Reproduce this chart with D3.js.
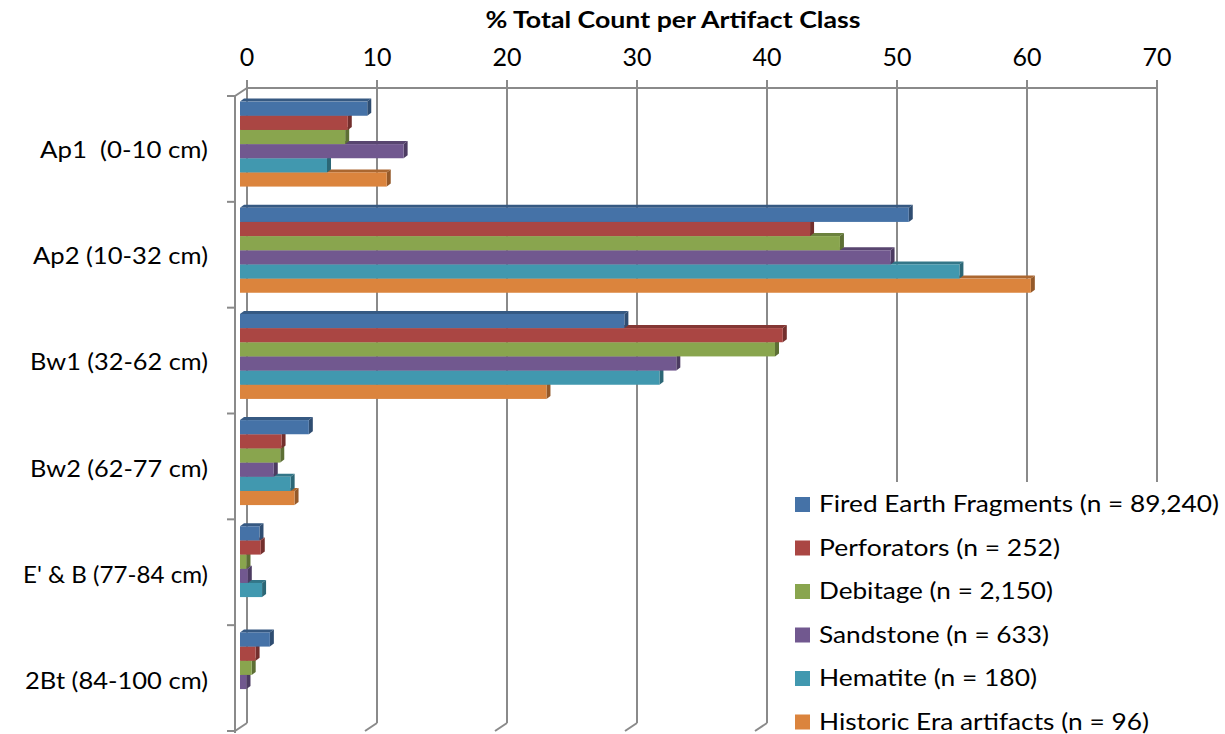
<!DOCTYPE html>
<html>
<head>
<meta charset="utf-8">
<script src="https://cdn.jsdelivr.net/npm/d3@7"></script>
<style>
  html, body { margin: 0; padding: 0; background: #fff; }
  svg { display: block; }
  text { font-family: Lato, "Open Sans", sans-serif; fill: #000; }
</style>
</head>
<body>
<svg id="chart" width="1225" height="734"></svg>
<script>
// ---- data ----
const categories = ["Ap1  (0-10 cm)", "Ap2 (10-32 cm)", "Bw1 (32-62 cm)", "Bw2 (62-77 cm)", "E' & B (77-84 cm)", "2Bt (84-100 cm)"];
const seriesNames = [
  "Fired Earth Fragments (n = 89,240)",
  "Perforators (n = 252)",
  "Debitage (n = 2,150)",
  "Sandstone (n = 633)",
  "Hematite (n = 180)",
  "Historic Era artifacts (n = 96)"
];
const firedEarth = [9.8, 51.5, 29.6, 5.3, 1.5, 2.3];
const perforators = [8.3, 43.9, 41.8, 3.2, 1.6, 1.2];
const debitage = [8.1, 46.2, 41.2, 3.1, 0.5, 0.9];
const sandstone = [12.6, 50.1, 33.6, 2.6, 0.6, 0.5];
const hematite = [6.7, 55.4, 32.3, 3.9, 1.7, 0];
const historic = [11.3, 60.9, 23.6, 4.2, 0, 0];
const tickValues = [0, 10, 20, 30, 40, 50, 60, 70];
const axisTitle = "% Total Count per Artifact Class";
const colors = ["#4572A7", "#AA4643", "#89A54E", "#71588F", "#4198AF", "#DB843D"];

const seriesValues = [firedEarth, perforators, debitage, sandstone, hematite, historic];
const series = seriesNames.map((name, i) => ({ name, values: seriesValues[i], color: colors[i], idx: i }));

// ---- layout ----
const svg = d3.select("#chart");
const gridColor = "#8a8a8a";
const wallTop = 88, wallBottom = 723;
const depth = { dx: -12, dy: 8 };       // back wall -> front
const barDepth = { dx: 4, dy: -3 };     // bar front -> bar back

const xBack = d3.scaleLinear().domain([0, 70]).range([247, 1157]);
const xBar = d3.scaleLinear().domain([0, 70]).range([240, 1149]);
const yBand = d3.scaleBand().domain(categories).range([91, 728]);
const groupH = 85;
const ySub = d3.scaleBand().domain(d3.range(series.length)).range([0, groupH]);

// ---- back wall gridlines ----
const grid = svg.append("g").attr("stroke", gridColor).attr("stroke-width", 2).attr("fill", "none");
tickValues.forEach(t => {
  const gx = xBack(t);
  grid.append("line").attr("x1", gx).attr("x2", gx).attr("y1", wallTop - 8).attr("y2", wallBottom);
  grid.append("line").attr("x1", gx).attr("x2", gx + depth.dx).attr("y1", wallBottom).attr("y2", wallBottom + depth.dy);
});
grid.append("line").attr("x1", xBack(0)).attr("x2", xBack(70)).attr("y1", wallTop).attr("y2", wallTop);
// left wall
const fx = xBack(0) + depth.dx;
grid.append("line").attr("x1", xBack(0)).attr("y1", wallTop).attr("x2", fx).attr("y2", wallTop + depth.dy);
grid.append("line").attr("x1", fx).attr("x2", fx).attr("y1", wallTop + depth.dy).attr("y2", wallBottom + depth.dy + 2);
const tickStep = (wallBottom - wallTop) / categories.length;
d3.range(categories.length + 1).forEach(k => {
  const ty = wallTop + depth.dy + k * tickStep;
  grid.append("line").attr("x1", fx - 8).attr("x2", fx).attr("y1", ty).attr("y2", ty);
});

// top axis labels
svg.append("g").selectAll("text").data(tickValues).join("text")
  .attr("x", d => xBack(d)).attr("y", 66)
  .attr("text-anchor", "middle").attr("font-size", 25)
  .text(d => d);

svg.append("text").attr("x", 673).attr("y", 28).attr("text-anchor", "middle")
  .attr("font-size", 22).attr("font-weight", "bold")
  .attr("textLength", 375).attr("lengthAdjust", "spacingAndGlyphs")
  .text(axisTitle);

// ---- bars ----
const bars = svg.append("g");
categories.forEach((cat, ci) => {
  const g = bars.append("g");
  for (let si = series.length - 1; si >= 0; si--) {
    const s = series[si];
    const v = s.values[ci];
    if (!(v > 0)) continue;
    const x0 = xBar(0), x1 = xBar(v);
    const y0 = yBand(cat) + (yBand.bandwidth() - groupH) / 2 + ySub(si);
    const h = ySub.bandwidth();
    const c = d3.color(s.color);
    // top face
    g.append("path")
      .attr("d", `M${x0},${y0} L${x0 + barDepth.dx},${y0 + barDepth.dy} L${x1 + barDepth.dx},${y0 + barDepth.dy} L${x1},${y0} Z`)
      .attr("fill", c.darker(0.7));
    // right face
    g.append("path")
      .attr("d", `M${x1},${y0} L${x1 + barDepth.dx},${y0 + barDepth.dy} L${x1 + barDepth.dx},${y0 + h + barDepth.dy} L${x1},${y0 + h} Z`)
      .attr("fill", c.darker(1.1));
    // front face
    g.append("rect").attr("x", x0).attr("y", y0).attr("width", x1 - x0).attr("height", h)
      .attr("fill", s.color);
  }
});

// ---- category labels ----
const labelWidths = [168, 175, 178, 178, 185, 183];
svg.append("g").selectAll("text").data(categories).join("text")
  .attr("x", 208)
  .attr("y", d => yBand(d) + yBand.bandwidth() / 2 + 14)
  .attr("text-anchor", "end").attr("font-size", 24)
  .attr("textLength", (d, i) => labelWidths[i]).attr("lengthAdjust", "spacingAndGlyphs")
  .style("white-space", "pre")
  .text(d => d);

// ---- legend ----
const legend = svg.append("g");
legend.append("rect").attr("x", 778).attr("y", 482).attr("width", 447).attr("height", 252).attr("fill", "#fff");
const legendWidths = [400, 241, 234, 230, 218, 330];
series.forEach((s, i) => {
  const by = 512 + i * 43.5;
  legend.append("rect").attr("x", 795).attr("y", by - 15).attr("width", 15).attr("height", 15).attr("fill", s.color);
  legend.append("text").attr("x", 819).attr("y", by).attr("font-size", 24)
    .attr("textLength", legendWidths[i]).attr("lengthAdjust", "spacingAndGlyphs")
    .text(s.name);
});
</script>
</body>
</html>
